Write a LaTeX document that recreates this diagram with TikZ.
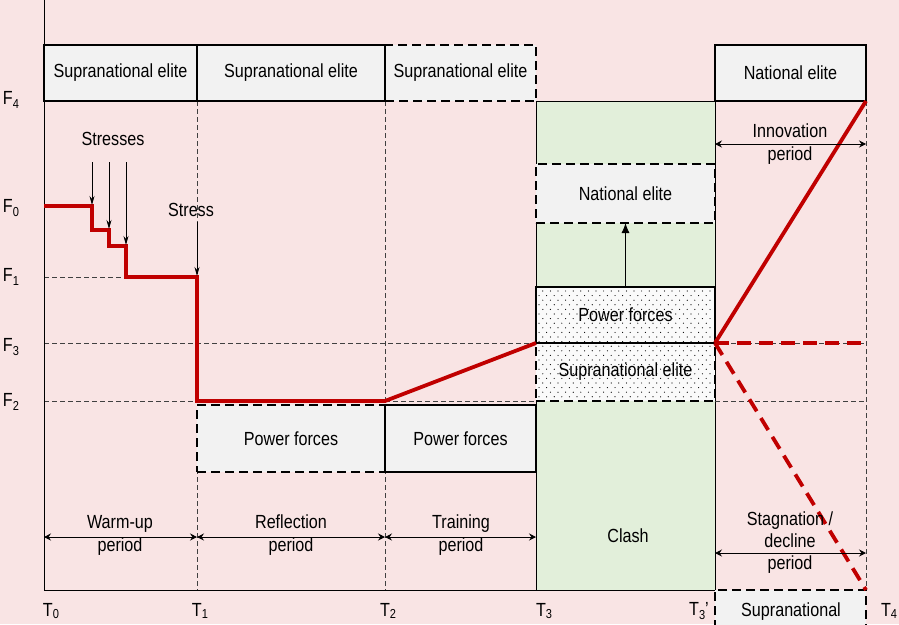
\documentclass[tikz,border=0pt]{standalone}
\usepackage{fontspec}
\setmainfont{Liberation Sans}[FakeStretch=0.85]
\usetikzlibrary{arrows.meta}
\definecolor{bgpink}{RGB}{249,228,228}
\definecolor{clashgreen}{RGB}{226,239,218}
\definecolor{boxgrey}{RGB}{242,242,242}
\definecolor{dotbg}{RGB}{250,250,250}
\definecolor{redline}{RGB}{192,0,0}
\newcommand\lblfont{\fontsize{19}{23}\selectfont}
\newcommand\subs[1]{\raisebox{-4pt}{\fontsize{13}{13}\selectfont #1}}
\newcommand\tsubs[1]{\raisebox{-1.5pt}{\fontsize{13}{13}\selectfont #1}}
\begin{document}
\begin{tikzpicture}[x=1pt,y=-1pt,
  every node/.style={font=\lblfont, inner sep=0pt, outer sep=0pt},
  ebox/.style={fill=boxgrey, line width=2.4pt, anchor=north west},
  edash/.style={ebox, dash pattern=on 9pt off 5pt},
  guide/.style={line width=0.7pt, dash pattern=on 5pt off 3pt, black!75},
  redl/.style={line width=3.8pt, redline, line join=miter},
  redd/.style={line width=3.8pt, redline, dash pattern=on 14pt off 8pt},
  period/.style={line width=0.8pt, {Stealth[length=7pt,width=7pt,inset=2.5pt]}-{Stealth[length=7pt,width=7pt,inset=2.5pt]}},
  stressarr/.style={line width=0.8pt, -{Stealth[length=9pt,width=5pt]}},
  lbl/.style={align=center}]
\useasboundingbox (0,0) rectangle (899,624);
\fill[bgpink] (0,0) rectangle (899,624);
\clip (0,0) rectangle (899,624);

% clash region
\fill[clashgreen] (536,101) rectangle (715,590);
\draw[line width=0.8pt] (536,590) -- (536,101) -- (715,101) -- (715,590);

% guides
\draw[guide] (44,277) -- (126,277);
\draw[guide] (44,343) -- (536,343);
\draw[guide] (715,343) -- (866,343);
\draw[guide] (44,401) -- (197,401);
\draw[guide] (385,401) -- (536,401);
\draw[guide] (715,401) -- (866,401);
\draw[guide] (197,101) -- (197,590);
\draw[guide] (385,101) -- (385,590);
\draw[guide] (866,101) -- (866,590);

% axes
\draw[line width=0.8pt] (44,0) -- (44,590) -- (715,590);

% top boxes
\node[edash, draw, minimum width=151pt, minimum height=56pt] (se3) at (385,45) {Supranational elite};
\node[ebox, draw, minimum width=153pt, minimum height=56pt] (se1) at (44,45) {Supranational elite};
\node[ebox, draw, minimum width=188pt, minimum height=56pt] (se2) at (197,45) {Supranational elite};
\node[ebox, draw, minimum width=151pt, minimum height=56pt] (ne1) at (715,45) {National elite};

% clash boxes
\node[edash, draw, minimum width=179pt, minimum height=59pt] (ne2) at (536,164) {National elite};
\fill[dotbg] (536,287) rectangle (715,401);
\foreach \yy [count=\r] in {291,295.6,...,399} {
  \pgfmathsetmacro{\xoff}{mod(\r,2)*3.8}
  \foreach \xx in {539,546.6,...,713} {
    \fill[black] (\xx+\xoff,\yy) circle (0.6pt);
  }
}
\node[edash, draw, fill=none, minimum width=179pt, minimum height=58pt] (sedot) at (536,343) {Supranational elite};
\node[ebox, draw, fill=none, minimum width=179pt, minimum height=56pt] (pfdot) at (536,287) {Power forces};
\draw[line width=0.8pt, -{Latex[length=10pt,width=8pt]}] (pfdot.north) -- (ne2.south);

% power forces boxes
\node[edash, draw, line width=1.6pt, minimum width=188pt, minimum height=67pt] (pf1) at (197,405) {Power forces};
\node[ebox, draw, minimum width=151pt, minimum height=67pt] (pf2) at (385,405) {Power forces};

% bottom supranational box
\node[edash, draw, minimum width=151pt, minimum height=60pt] (sebot) at (715,590) {};
\node (sebottxt) at (791,612) {Supranational};

% red curve
\coordinate (c0) at (44,206);
\coordinate (c1) at (536,343);
\coordinate (c2) at (715,343);
\draw[redl] (c0) -| (92,230) -| (109,246) -| (126,277) -| (197,401) -- (385,401) -- (c1);
\draw[redl] (c2) -- (866,101);
\draw[redd] (c2) -- (866,343);
\draw[redd] (c2) -- (866,590);

% stresses
\node (stresses) at (113,139) {Stresses};
\draw[stressarr] (92,162) -- (92,205);
\draw[stressarr] (109,162) -- (109,229);
\draw[stressarr] (126,162) -- (126,245);
\node (stress) at (191,210) {Stress};
\draw[stressarr] (197,222) -- (197,276);

% periods
\draw[period] (44,537) -- (197,537);
\node[lbl] (warm) at (120,535) {Warm-up\\period};
\draw[period] (197,537) -- (385,537);
\node[lbl] (refl) at (291,535) {Reflection\\period};
\draw[period] (385,537) -- (536,537);
\node[lbl] (train) at (461,535) {Training\\period};
\node (clash) at (628,536) {Clash};
\draw[period] (715,144) -- (866,144);
\node[lbl] (innov) at (790,144) {Innovation\\period};
\draw[period] (715,553) -- (866,553);
\node[lbl, font=\fontsize{19}{22}\selectfont] (stag) at (790,543) {Stagnation /\\decline\\period};

% axis labels
\node (f4) at (11,100) {F\subs{4}};
\node (f0) at (11,208) {F\subs{0}};
\node (f1) at (11,277) {F\subs{1}};
\node (f3) at (11,347) {F\subs{3}};
\node (f2) at (11,402) {F\subs{2}};
\node (t0) at (51,611) {T\tsubs{0}};
\node (t1) at (200,611) {T\tsubs{1}};
\node (t2) at (388,611) {T\tsubs{2}};
\node (t3) at (544,611) {T\tsubs{3}};
\node (t3p) at (699,611) {T\subs{3}'};
\node (t4) at (889,611) {T\tsubs{4}};
\end{tikzpicture}
\end{document}
